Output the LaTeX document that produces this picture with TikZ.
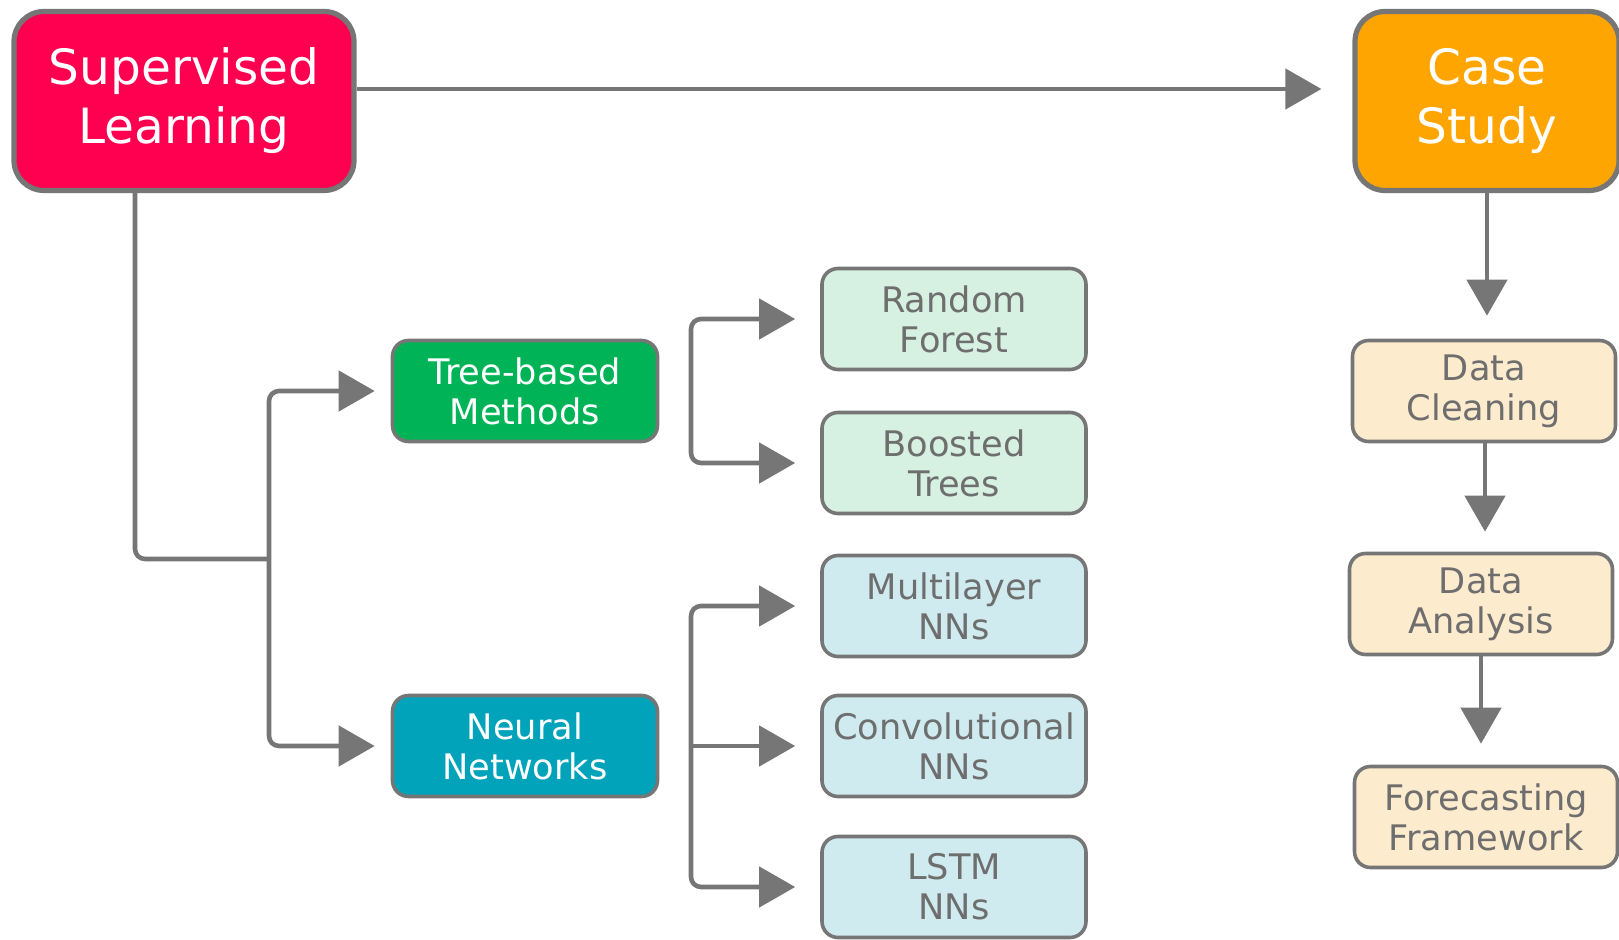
\documentclass[tikz,border=0pt]{standalone}
\usepackage{fontspec}
\setmainfont{DejaVu Sans}
\usetikzlibrary{arrows.meta,calc}
\definecolor{edgegray}{HTML}{767676}
\definecolor{txtgray}{HTML}{6E6E6E}
\definecolor{slred}{HTML}{FF0050}
\definecolor{csorange}{HTML}{FFA502}
\definecolor{tbgreen}{HTML}{00B357}
\definecolor{nnteal}{HTML}{00A3B9}
\definecolor{lgreen}{HTML}{D6F0E1}
\definecolor{lblue}{HTML}{CFEBEF}
\definecolor{lbeige}{HTML}{FDEBCD}
\tikzset{
  bigbox/.style={draw=edgegray, line width=2.6pt, rounded corners=15pt, align=center,
    text=white, minimum width=170pt, minimum height=89.5pt, inner sep=0pt,
    font=\fontsize{24.3pt}{29.5pt}\selectfont},
  midbox/.style={draw=edgegray, line width=1.8pt, rounded corners=8pt, align=center,
    text=white, minimum width=132.5pt, minimum height=50.5pt, inner sep=0pt,
    font=\fontsize{17.6pt}{20pt}\selectfont},
  leafbox/.style={draw=edgegray, line width=1.8pt, rounded corners=8pt, align=center,
    text=txtgray, minimum width=132pt, minimum height=50.5pt, inner sep=0pt,
    font=\fontsize{17.6pt}{20pt}\selectfont},
  conn/.style={draw=edgegray, line width=2.3pt, rounded corners=5pt},
  arr/.style={conn, -{Triangle[length=18pt,width=20pt]}},
}
\begin{document}
\begin{tikzpicture}[x=0.5pt,y=-0.5pt]
\useasboundingbox (0,0) rectangle (1619,940);
% main nodes
\node[bigbox, fill=slred] (sl) at (184,101) {Supervised\\Learning};
\node[bigbox, fill=csorange, minimum width=132pt] (cs) at (1487,101) {Case\\Study};
\node[midbox, fill=tbgreen] (tb) at (525,391) {Tree-based\\Methods};
\node[midbox, fill=nnteal] (nn) at (525,746) {Neural\\Networks};
% leaves
\node[leafbox, fill=lgreen] (rf) at (954,319) {Random\\Forest};
\node[leafbox, fill=lgreen] (bt) at (954,463) {Boosted\\Trees};
\node[leafbox, fill=lblue] (ml) at (954,606) {Multilayer\\NNs};
\node[leafbox, fill=lblue] (cv) at (954,746) {Convolutional\\NNs};
\node[leafbox, fill=lblue] (ls) at (954,887) {LSTM\\NNs};
% case study chain
\node[leafbox, fill=lbeige, minimum width=131.5pt] (dc) at (1484,391) {Data\\Cleaning};
\node[leafbox, fill=lbeige, minimum width=131.5pt] (da) at (1481,604) {Data\\Analysis};
\node[leafbox, fill=lbeige, minimum width=131.5pt] (ff) at (1486,817) {Forecasting\\Framework};
% helper coordinates
\coordinate (ytop) at (0,89);
\coordinate (xsl) at (135,0);
\coordinate (jn) at (269,559);
\coordinate (xbr) at (691,0);
\coordinate (xcs) at (1487,0);
\coordinate (xdc) at (1485,0);
% top arrow
\draw[arr, shorten >=15.5pt] (sl.east |- ytop) -- (cs.west |- ytop);
% supervised to branches
\draw[conn] (sl.south -| xsl) |- (jn);
\draw[arr] (jn) |- ([xshift=-8pt]tb.west);
\draw[arr] (jn) |- ([xshift=-8pt]nn.west);
% tree branch
\coordinate (tbj) at (tb.east -| xbr);
\draw[arr] (tbj) |- ([xshift=-12.5pt]rf.west);
\draw[arr] (tbj) |- ([xshift=-12.5pt]bt.west);
% neural branch
\coordinate (nnj) at (nn.east -| xbr);
\draw[arr] (nnj) |- ([xshift=-12.5pt]ml.west);
\draw[arr] (nnj) -- ([xshift=-12.5pt]cv.west);
\draw[arr] (nnj) |- ([xshift=-12.5pt]ls.west);
% case study chain
\draw[arr, shorten >=11.5pt] (cs.south -| xcs) -- (dc.north -| xcs);
\draw[arr, shorten >=10pt] (dc.south -| xdc) -- (da.north -| xdc);
\draw[arr, shorten >=10.5pt] (da.south) -- (ff.north -| da.south);
\end{tikzpicture}
\end{document}
